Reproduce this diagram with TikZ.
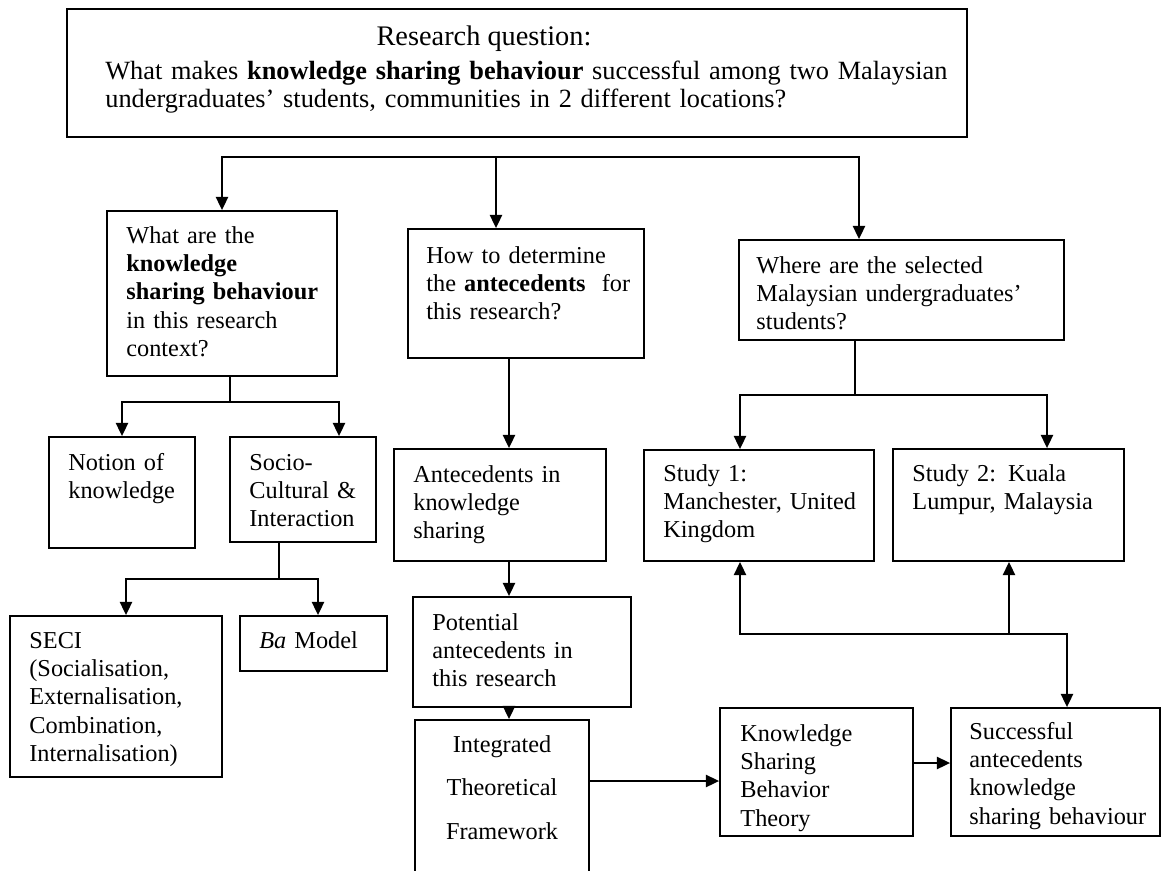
\documentclass[tikz,border=0pt]{standalone}
\usepackage{fontspec}
\setmainfont{Liberation Serif}
\usetikzlibrary{arrows.meta,fit}
\newcommand\bodyfont{\fontsize{12}{14}\selectfont}
\begin{document}
\begin{tikzpicture}[x=0.494pt,y=-0.494pt,
  box/.style={draw, line width=0.9pt, inner sep=0pt},
  txt/.style={anchor=base west, inner sep=0pt, text width=150pt, align=left, font=\bodyfont},
  conn/.style={line width=0.9pt},
  arr/.style={conn, -{Triangle[length=6.5pt,width=6pt]}}]
\path[use as bounding box] (0,0) rectangle (1162,870);
\clip (0,0) rectangle (1162,870);
% boxes
\node[box, fit={(67,9)(967,137)}] (rq) {};
\node[box, fit={(107,211)(337,376)}] (q1) {};
\node[box, fit={(408,229)(644,358)}] (q2) {};
\node[box, fit={(739,240)(1064,340)}] (q3) {};
\node[box, fit={(49,437)(195,548)}] (notion) {};
\node[box, fit={(230,437)(376,542)}] (socio) {};
\node[box, fit={(10,616)(222,777)}] (seci) {};
\node[box, fit={(240,616)(387,671)}] (ba) {};
\node[box, fit={(394,449)(606,561)}] (ante) {};
\node[box, fit={(413,597)(631,707)}] (pot) {};
\node[box, fit={(415,720)(589,890)}] (integ) {};
\node[box, fit={(720,708)(913,836)}] (ksb) {};
\node[box, fit={(951,708)(1160,836)}] (succ) {};
\node[box, fit={(644,450)(874,561)}] (st1) {};
\node[box, fit={(893,449)(1124,561)}] (st2) {};
% texts
\node[font=\fontsize{14}{16}\selectfont, anchor=base, inner sep=0pt] (rq-t1) at (484,45) {Research question:};
\node[txt, text width=480pt, font=\fontsize{13}{14.3}\selectfont] (rq-t2) at (105,79) {What makes \textbf{knowledge sharing behaviour} successful among two Malaysian\\undergraduates’ students, communities in 2 different locations?};
\node[txt] (q1-t) at (126,243) {What are the\\\textbf{knowledge}\\\textbf{sharing behaviour}\\in this research\\context?};
\node[txt] (q2-t) at (426,263) {How to determine\\the \textbf{antecedents}~ for\\this research?};
\node[txt] (q3-t) at (756,273) {Where are the selected\\Malaysian undergraduates’\\students?};
\node[txt] (notion-t) at (68,470) {Notion of\\knowledge};
\node[txt] (socio-t) at (249,470) {Socio-\\Cultural \&\\Interaction};
\node[txt] (seci-t) at (29,648) {SECI\\(Socialisation,\\Externalisation,\\Combination,\\Internalisation)};
\node[txt] (ba-t) at (259,648) {\textit{Ba} Model};
\node[txt] (ante-t) at (413,482) {Antecedents in\\knowledge\\sharing};
\node[txt] (pot-t) at (432,630) {Potential\\antecedents in\\this research};
\node[txt, anchor=base, align=center, font=\fontsize{12}{21.7}\selectfont] (integ-t) at (502,752) {Integrated\\Theoretical\\Framework};
\node[txt] (ksb-t) at (740,741) {Knowledge\\Sharing\\Behavior\\Theory};
\node[txt] (succ-t) at (969,739) {Successful\\antecedents\\knowledge\\sharing behaviour};
\node[txt] (st1-t) at (663,481) {Study 1:\\Manchester, United\\Kingdom};
\node[txt] (st2-t) at (912,481) {Study 2: Kuala\\Lumpur, Malaysia};
% top fan
\coordinate (h2) at (496,157);
\coordinate (h3) at (859,157);
\draw[arr] (h2) -| (q1.north);
\draw[arr] (h2) -| (h3 |- q3.north);
\draw[arr] (h2) -- (h2 |- q2.north);
% q1 fan
\coordinate (a) at (230,402);
\coordinate (a2) at (339,402);
\draw[conn] (a |- q1.south) -- (a);
\draw[arr] (a) -| (notion.north);
\draw[arr] (a) -| (a2 |- socio.north);
% socio fan
\coordinate (b) at (279,579);
\coordinate (b1) at (126,579);
\coordinate (b2) at (318,579);
\draw[conn] (b |- socio.south) -- (b);
\draw[arr] (b) -| (b1 |- seci.north);
\draw[arr] (b) -| (b2 |- ba.north);
% middle column
\coordinate (m) at (509,0);
\draw[arr] (m |- q2.south) -- (m |- ante.north);
\draw[arr] (m |- ante.south) -- (m |- pot.north);
\draw[arr] (m |- pot.south) -- (m |- integ.north);
\coordinate (k1) at (0,781);
\coordinate (k2) at (0,763);
\draw[arr] (k1 -| integ.east) -- (k1 -| ksb.west);
\draw[arr] (k2 -| ksb.east) -- (k2 -| succ.west);
% q3 fan
\coordinate (c) at (855,395);
\coordinate (c1) at (740,395);
\coordinate (c2) at (1047,395);
\draw[conn] (c |- q3.south) -- (c);
\draw[arr] (c) -| (c1 |- st1.north);
\draw[arr] (c) -| (c2 |- st2.north);
% bottom junction
\coordinate (d) at (1009,634);
\coordinate (d1) at (740,634);
\coordinate (d2) at (1067,634);
\draw[arr] (d) -| (d1 |- st1.south);
\draw[arr] (d) -- (d |- st2.south);
\draw[arr] (d) -| (d2 |- succ.north);
\end{tikzpicture}
\end{document}
